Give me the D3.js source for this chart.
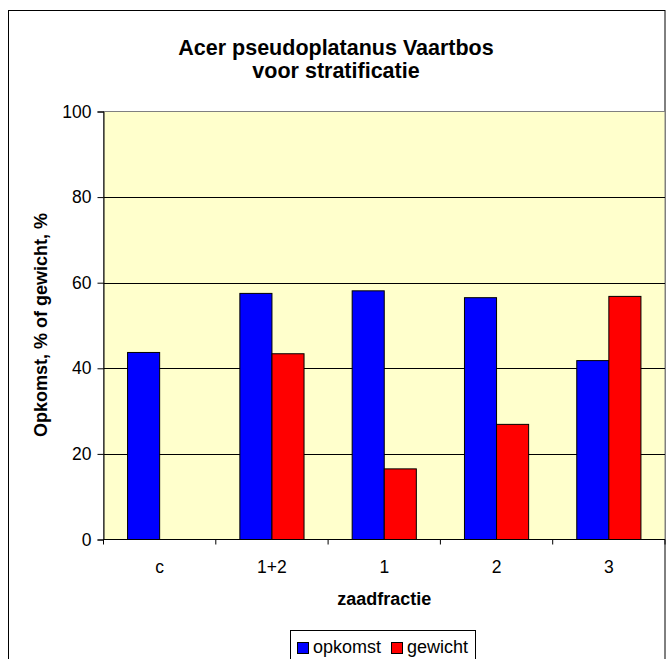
<!DOCTYPE html>
<html>
<head>
<meta charset="utf-8">
<script src="https://cdn.jsdelivr.net/npm/d3@7"></script>
<style>
  html, body { margin: 0; padding: 0; background: #fff; }
  svg { display: block; font-family: "Liberation Sans", Arial, sans-serif; }
</style>
</head>
<body>
<svg id="chart" width="666" height="659"></svg>
<script>
// Categories (seed fractions) and the two measured series
const categories = ["c", "1+2", "1", "2", "3"];
const seriesNames = ["opkomst", "gewicht"];
const opkomst = [43.7, 57.5, 58.1, 56.5, 41.8];
const gewicht = [null, 43.4, 16.5, 26.9, 56.8];
const yTicks = [0, 20, 40, 60, 80, 100];
const colors = ["#0000FF", "#FF0000"];

const svg = d3.select("#chart");
const plot = { left: 103.5, right: 665, top: 111.5, bottom: 539.5 };
const FONT = "'Liberation Sans', Arial, sans-serif";

// Outer chart frame (continues past the bottom edge)
svg.append("rect")
  .attr("x", 8.5).attr("y", 10.5)
  .attr("width", 656.5).attr("height", 700)
  .attr("fill", "#fff").attr("stroke", "#000").attr("stroke-width", 1);

const x0 = d3.scaleBand().domain(categories)
  .range([plot.left, plot.right]).paddingInner(0).paddingOuter(0);
// gap width 150% of one bar: 2 bars + 1.5 gap per category
const groupFrac = 2 / 3.5;
const x1 = d3.scaleBand().domain(seriesNames)
  .range([0, x0.bandwidth() * groupFrac]).padding(0);
const y = d3.scaleLinear().domain([0, 100]).range([plot.bottom, plot.top]);

// Plot background
svg.append("rect")
  .attr("x", plot.left).attr("y", plot.top)
  .attr("width", plot.right - plot.left).attr("height", plot.bottom - plot.top)
  .attr("fill", "#FFFFCC").attr("stroke", "#808080").attr("stroke-width", 1);

// Horizontal gridlines
svg.append("g").selectAll("line")
  .data(yTicks.filter(t => t > 0 && t < 100))
  .join("line")
  .attr("x1", plot.left).attr("x2", plot.right)
  .attr("y1", d => Math.round(y(d)) + 0.5).attr("y2", d => Math.round(y(d)) + 0.5)
  .attr("stroke", "#000").attr("stroke-width", 1);

// Bars
const rows = categories.map((c, i) => ({ c, vals: [opkomst[i], gewicht[i]] }));
const groups = svg.append("g").selectAll("g")
  .data(rows).join("g")
  .attr("transform", d => `translate(${x0(d.c) + x0.bandwidth() * (1 - groupFrac) / 2},0)`);
groups.selectAll("rect")
  .data(d => d.vals.map((v, k) => ({ k, v })).filter(e => e.v != null))
  .join("rect")
  .attr("x", e => x1(seriesNames[e.k]))
  .attr("width", x1.bandwidth())
  .attr("y", e => y(e.v))
  .attr("height", e => y(0) - y(e.v))
  .attr("fill", e => colors[e.k])
  .attr("stroke", "#000").attr("stroke-width", 1);

// Y axis
const yAxis = d3.axisLeft(y).tickValues(yTicks).tickSize(6).tickPadding(6).tickFormat(d3.format("d"));
const gy = svg.append("g").attr("transform", `translate(${plot.left},0)`).call(yAxis);
gy.select(".domain").attr("stroke", "#000");
gy.selectAll(".tick line").attr("stroke", "#000");
gy.selectAll(".tick text").attr("font-size", 17.5).attr("fill", "#000")
  .attr("font-family", FONT);

// X axis: ticks at category boundaries, labels centred in each category
const gx = svg.append("g").attr("transform", `translate(0,${plot.bottom})`);
gx.append("line").attr("x1", plot.left).attr("x2", plot.right)
  .attr("y1", 0).attr("y2", 0).attr("stroke", "#000");
const boundaries = categories.map(c => x0(c)).concat([x0(categories[categories.length - 1]) + x0.bandwidth()]);
gx.selectAll("line.tk").data(boundaries).join("line").attr("class", "tk")
  .attr("x1", d => d).attr("x2", d => d).attr("y1", 0).attr("y2", 5)
  .attr("stroke", "#000");
gx.selectAll("text").data(categories).join("text")
  .attr("x", d => x0(d) + x0.bandwidth() / 2).attr("y", 33.5)
  .attr("text-anchor", "middle").attr("font-size", 17.5).attr("fill", "#000")
  .text(d => d);

// Chart title
const titleX = 336;
svg.append("text").attr("x", titleX).attr("y", 55)
  .attr("text-anchor", "middle").attr("font-size", 21.5).attr("font-weight", "bold")
  .text("Acer pseudoplatanus Vaartbos");
svg.append("text").attr("x", titleX).attr("y", 78)
  .attr("text-anchor", "middle").attr("font-size", 21.5).attr("font-weight", "bold")
  .text("voor stratificatie");

// Axis titles
svg.append("text").attr("x", (plot.left + plot.right) / 2).attr("y", 605)
  .attr("text-anchor", "middle").attr("font-size", 18).attr("font-weight", "bold")
  .text("zaadfractie");

svg.append("text")
  .attr("transform", `translate(47,325) rotate(-90)`)
  .attr("text-anchor", "middle").attr("font-size", 18).attr("font-weight", "bold")
  .text("Opkomst, % of gewicht, %");

// Legend
const lg = svg.append("g");
lg.append("rect").attr("x", 290.5).attr("y", 630.5).attr("width", 185).attr("height", 40)
  .attr("fill", "#fff").attr("stroke", "#000");
const legendItems = [{ name: "opkomst", x: 297 }, { name: "gewicht", x: 391 }];
legendItems.forEach((it, i) => {
  lg.append("rect").attr("x", it.x + 0.5).attr("y", 642.5).attr("width", 11).attr("height", 11)
    .attr("fill", colors[i]).attr("stroke", "#000");
  lg.append("text").attr("x", it.x + 16).attr("y", 652.5)
    .attr("font-size", 18).attr("fill", "#000").text(it.name);
});
</script>
</body>
</html>
